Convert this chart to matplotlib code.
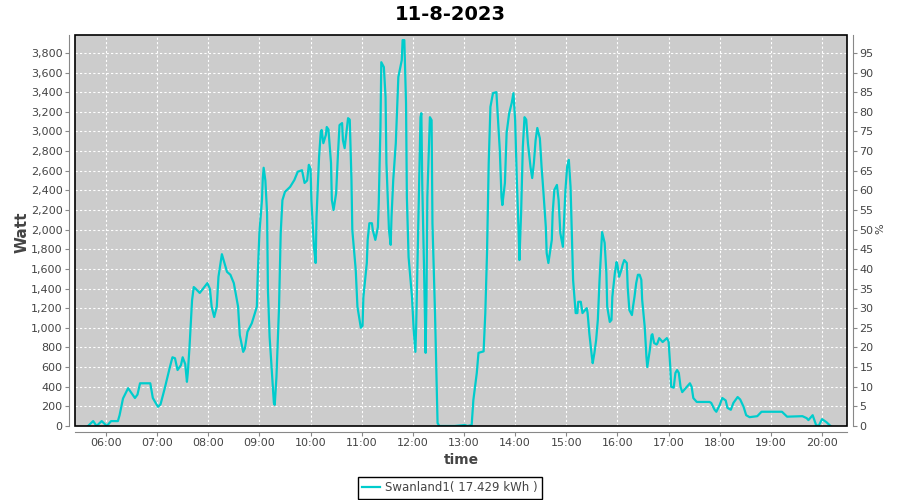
import matplotlib
matplotlib.use("Agg")
import matplotlib.pyplot as plt
from matplotlib.patches import Rectangle
from matplotlib.ticker import FuncFormatter, MultipleLocator

# readings for 11-8-2023 (time of day, watt)
times = [
    "05:39", "05:45", "05:49", "05:55", "06:01", "06:06", "06:14", "06:16", "06:20", "06:26",
    "06:28", "06:34", "06:37", "06:40", "06:52", "06:55", "07:01", "07:04", "07:09", "07:15",
    "07:18", "07:21", "07:24", "07:28", "07:30", "07:33", "07:35", "07:36", "07:38", "07:41",
    "07:43", "07:45", "07:50", "07:54", "07:59", "08:02", "08:04", "08:07", "08:10", "08:12",
    "08:16", "08:17", "08:22", "08:26", "08:30", "08:35", "08:37", "08:41", "08:43", "08:46",
    "08:51", "08:53", "08:57", "08:58", "09:00", "09:03", "09:04", "09:05", "09:07", "09:09",
    "09:10", "09:12", "09:15", "09:17", "09:18", "09:20", "09:23", "09:25", "09:27", "09:30",
    "09:36", "09:41", "09:45", "09:50", "09:53", "09:56", "09:58", "10:00", "10:01", "10:04",
    "10:06", "10:07", "10:10", "10:12", "10:13", "10:15", "10:18", "10:19", "10:21", "10:24",
    "10:25", "10:27", "10:30", "10:32", "10:34", "10:37", "10:38", "10:40", "10:42", "10:44",
    "10:46", "10:48", "10:49", "10:53", "10:55", "10:59", "11:01", "11:02", "11:06", "11:07",
    "11:09", "11:12", "11:13", "11:16", "11:19", "11:20", "11:22", "11:23", "11:26", "11:28",
    "11:29", "11:32", "11:34", "11:35", "11:37", "11:40", "11:42", "11:43", "11:47", "11:48",
    "11:50", "11:52", "11:53", "11:55", "11:59", "12:01", "12:03", "12:04", "12:07", "12:09",
    "12:10", "12:11", "12:13", "12:15", "12:16", "12:17", "12:20", "12:22", "12:23", "12:26",
    "12:28", "12:29", "12:31", "12:49", "13:01", "13:04", "13:09", "13:11", "13:15", "13:17",
    "13:21", "13:23", "13:25", "13:27", "13:29", "13:31", "13:34", "13:38", "13:39", "13:42",
    "13:44", "13:45", "13:48", "13:50", "13:53", "13:56", "13:58", "14:00", "14:02", "14:04",
    "14:05", "14:07", "14:09", "14:11", "14:13", "14:15", "14:18", "14:20", "14:22", "14:24",
    "14:26", "14:29", "14:31", "14:33", "14:36", "14:37", "14:39", "14:43", "14:44", "14:46",
    "14:49", "14:51", "14:53", "14:56", "14:57", "14:59", "15:01", "15:03", "15:05", "15:07",
    "15:08", "15:11", "15:13", "15:14", "15:17", "15:19", "15:21", "15:24", "15:25", "15:27",
    "15:30", "15:31", "15:33", "15:35", "15:37", "15:39", "15:41", "15:42", "15:45", "15:47",
    "15:48", "15:51", "15:53", "15:54", "15:57", "15:59", "16:00", "16:02", "16:05", "16:06",
    "16:08", "16:11", "16:12", "16:14", "16:17", "16:18", "16:20", "16:22", "16:24", "16:26",
    "16:28", "16:29", "16:32", "16:34", "16:35", "16:38", "16:40", "16:41", "16:43", "16:46",
    "16:47", "16:49", "16:53", "16:58", "17:00", "17:02", "17:03", "17:06", "17:08", "17:10",
    "17:12", "17:14", "17:16", "17:20", "17:25", "17:27", "17:29", "17:33", "17:48", "17:50",
    "17:54", "17:56", "18:00", "18:03", "18:07", "18:09", "18:13", "18:16", "18:21", "18:24",
    "18:28", "18:31", "18:35", "18:44", "18:49", "19:13", "19:19", "19:37", "19:42", "19:44",
    "19:49", "19:53", "19:56", "20:00", "20:05", "20:10",
]
watts = [
    0, 50, 0, 50, 0, 50, 50, 110, 280, 385,
    360, 285, 320, 435, 435, 285, 195, 220, 385, 600,
    700, 690, 570, 620, 700, 630, 450, 540, 800, 1280,
    1415, 1400, 1355, 1400, 1455, 1395, 1215, 1110, 1215, 1520,
    1750, 1720, 1570, 1540, 1455, 1215, 925, 755, 790, 960,
    1045, 1100, 1215, 1520, 1965, 2300, 2525, 2630, 2500, 2170,
    1385, 905, 500, 235, 215, 500, 1200, 1965, 2300, 2385,
    2435, 2505, 2590, 2605, 2475, 2500, 2660, 2620, 2300, 1825,
    1660, 2130, 2740, 2995, 3015, 2880, 2965, 3045, 3020, 2680,
    2300, 2200, 2370, 2740, 3065, 3085, 2910, 2830, 2985, 3135,
    3120, 2505, 1995, 1590, 1215, 1000, 1020, 1315, 1660, 1895,
    2065, 2065, 1995, 1895, 2025, 2270, 3045, 3705, 3655, 3350,
    2680, 1995, 1845, 2130, 2505, 2880, 3320, 3555, 3725, 3930,
    3930, 3290, 2330, 1720, 1315, 980, 755, 1050, 2330, 3145,
    3185, 2475, 1660, 745, 1315, 2330, 3145, 3115, 2065, 1150,
    400, 30, 0, 0, 10, 0, 10, 265, 540, 745,
    755, 760, 1150, 1760, 2680, 3250, 3390, 3400, 3250, 2810,
    2330, 2250, 2475, 2985, 3185, 3290, 3390, 3115, 2505, 1995,
    1690, 2170, 2840, 3145, 3120, 2880, 2640, 2525, 2680, 2910,
    3035, 2930, 2640, 2405, 2025, 1760, 1660, 1895, 2170, 2405,
    2455, 2300, 1965, 1825, 2025, 2405, 2640, 2710, 2435, 1790,
    1485, 1150, 1150, 1265, 1265, 1150, 1170, 1200, 1150, 945,
    705, 640, 745, 875, 1080, 1485, 1825, 1975, 1865, 1560,
    1215, 1060, 1080, 1315, 1560, 1670, 1640, 1520, 1600, 1640,
    1690, 1660, 1415, 1180, 1130, 1200, 1315, 1455, 1540, 1540,
    1490, 1285, 1010, 705, 600, 775, 925, 935, 845, 830,
    845, 895, 855, 895, 860, 600, 400, 390, 540, 570,
    540, 400, 345, 385, 435, 400, 285, 245, 245, 235,
    165, 145, 215, 285, 260, 185, 165, 235, 295, 270,
    195, 110, 90, 100, 145, 145, 95, 100, 80, 60,
    110, 10, 0, 70, 40, 0,
]

hour_ticks = [6, 7, 8, 9, 10, 11, 12, 13, 14, 15, 16, 17, 18, 19, 20]
title = "11-8-2023"
legend_label = "Swanland1( 17.429 kWh )"

hours = [int(t[:2]) + int(t[3:]) / 60 for t in times]

fig = plt.figure(figsize=(9, 5), dpi=100)
ax = fig.add_axes([75 / 900, 74 / 500, 772 / 900, 391 / 500])
ax.set_facecolor("#cccccc")

line, = ax.plot(hours, watts, color="#00cccc", lw=1.6, label=legend_label, zorder=3)

ax.set_xlim(5.395, 20.488)
ax.set_ylim(0, 3982)
ax.set_xticks(hour_ticks)
ax.set_xticklabels(["%02d:00" % h for h in hour_ticks])
ax.yaxis.set_major_locator(MultipleLocator(200))
ax.yaxis.set_major_formatter(FuncFormatter(lambda v, p: "{:,.0f}".format(v)))
ax.grid(True, color="white", linestyle=(0, (2, 2)), lw=0.8)
ax.set_axisbelow(True)

for s in ["top", "right"]:
    ax.spines[s].set_visible(False)
for s in ["left", "bottom"]:
    ax.spines[s].set_position(("outward", 4))
    ax.spines[s].set_color("#888888")
ax.tick_params(length=3, color="#888888", labelcolor="#444444", labelsize=8, pad=2)

ax2 = ax.twinx()
ax2.set_ylim(0, 3982 / 40)
ax2.yaxis.set_major_locator(MultipleLocator(5))
for s in ["top", "left", "bottom"]:
    ax2.spines[s].set_visible(False)
ax2.spines["right"].set_position(("outward", 4))
ax2.spines["right"].set_color("#888888")
ax2.tick_params(length=3, color="#888888", labelcolor="#444444", labelsize=8, pad=2)

# plot border
ax.add_patch(Rectangle((0, 0), 1, 1, transform=ax.transAxes, fill=False,
                       edgecolor="black", lw=1.2, clip_on=False, zorder=5))

fig.text(0.5, 1 - 15 / 500, title, ha="center", va="center", fontsize=14, fontweight="bold")
fig.text(461 / 900, 1 - 460 / 500, "time", ha="center", va="center", fontsize=10,
         fontweight="bold", color="#444444")
fig.text(22 / 900, 1 - 232 / 500, "Watt", ha="center", va="center", fontsize=11,
         fontweight="bold", color="#444444", rotation=90)
fig.text(880 / 900, 1 - 229 / 500, "%", ha="center", va="center", fontsize=8,
         color="#444444", rotation=90)

leg = fig.legend(handles=[line], loc="center", bbox_to_anchor=(450 / 900, 1 - 488 / 500),
                 frameon=True, fancybox=False, edgecolor="black", framealpha=1,
                 fontsize=8.5, handlelength=1.5, handletextpad=0.4, borderpad=0.35,
                 borderaxespad=0)
leg.get_frame().set_linewidth(1)
for t in leg.get_texts():
    t.set_color("#444444")

fig.savefig("out.png", dpi=100)
